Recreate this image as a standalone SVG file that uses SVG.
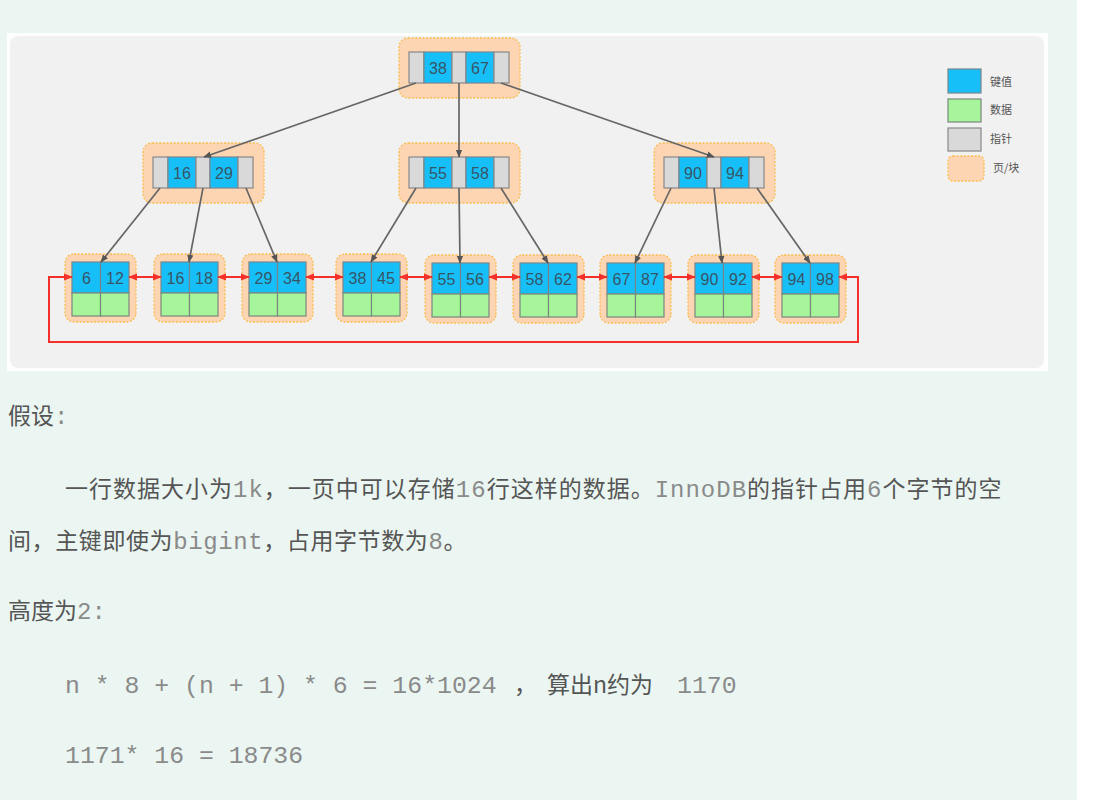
<svg xmlns="http://www.w3.org/2000/svg" width="1117" height="800" viewBox="0 0 1117 800">
<defs>
<style>
.pg{fill:#fdd5b3;stroke:#fbbd4e;stroke-width:1.3;stroke-dasharray:2 1.6}
.ky{fill:#17bff9;stroke:#78868c;stroke-width:1.2}
.pt{fill:#d9d9d9;stroke:#888;stroke-width:1.2}
.dt{fill:#a6f59a;stroke:#7a887c;stroke-width:1.2}
.kt{font-family:"Liberation Sans",Arial,sans-serif;font-size:16px;fill:#385566;text-anchor:middle}
.lg{font-family:"Noto Sans CJK SC",sans-serif;font-size:11px;fill:#555}
.cn{font-family:"Noto Sans CJK SC",sans-serif;font-size:23px;fill:#555}
.mo{font-family:"Liberation Mono","Courier New",monospace;font-size:24px;fill:#8a8a8a}
.mf{font-family:"Liberation Mono","Courier New",monospace;font-size:24.8px;fill:#8a8a8a}
.gl{stroke:#666;stroke-width:1.7;fill:none}
.rl{stroke:#f5302a;stroke-width:2;fill:none}
</style>
<marker id="ga" viewBox="0 0 10 10" refX="9" refY="5" markerWidth="8" markerHeight="8" markerUnits="userSpaceOnUse" orient="auto"><path d="M0,1 L10,5 L0,9 z" fill="#555"/></marker>
<marker id="ra" viewBox="0 0 10 10" refX="9" refY="5" markerWidth="9" markerHeight="9" markerUnits="userSpaceOnUse" orient="auto-start-reverse"><path d="M0,1 L10,5 L0,9 z" fill="#f5302a"/></marker>
<g id="inner">
<rect class="pg" x="-10" y="-14" width="121" height="60" rx="9"/>
<rect class="pt" x="0" y="0" width="15" height="31"/>
<rect class="ky" x="15" y="0" width="28" height="31"/>
<rect class="pt" x="43" y="0" width="14" height="31"/>
<rect class="ky" x="57" y="0" width="28" height="31"/>
<rect class="pt" x="85" y="0" width="15" height="31"/>
</g>
<g id="leaf">
<rect class="pg" x="-7" y="-8" width="71" height="68" rx="9"/>
<rect class="ky" x="0" y="0" width="28.5" height="31"/>
<rect class="ky" x="28.5" y="0" width="28.5" height="31"/>
<rect class="dt" x="0" y="31" width="28.5" height="23"/>
<rect class="dt" x="28.5" y="31" width="28.5" height="23"/>
</g>
</defs>
<rect x="0" y="0" width="1117" height="800" fill="#ffffff"/>
<rect x="0" y="0" width="1077" height="800" fill="#ebf6f2"/>
<rect x="7" y="33" width="1041" height="338" fill="#ffffff"/>
<rect x="10" y="36" width="1034" height="332" rx="8" fill="#f1f1f1"/>

<g id="root" transform="translate(409,52)"><use href="#inner"/><text class="kt" x="29" y="21.5">38</text><text class="kt" x="71" y="21.5">67</text></g>
<g id="n16" transform="translate(153,157)"><use href="#inner"/><text class="kt" x="29" y="21.5">16</text><text class="kt" x="71" y="21.5">29</text></g>
<g id="n55" transform="translate(409,157)"><use href="#inner"/><text class="kt" x="29" y="21.5">55</text><text class="kt" x="71" y="21.5">58</text></g>
<g id="n90" transform="translate(664,157)"><use href="#inner"/><text class="kt" x="29" y="21.5">90</text><text class="kt" x="71" y="21.5">94</text></g>

<g id="l6" transform="translate(72,262)"><use href="#leaf"/><text class="kt" x="14.5" y="21.5">6</text><text class="kt" x="43" y="21.5">12</text></g>
<g id="l16" transform="translate(161,262)"><use href="#leaf"/><text class="kt" x="14.5" y="21.5">16</text><text class="kt" x="43" y="21.5">18</text></g>
<g id="l29" transform="translate(249,262)"><use href="#leaf"/><text class="kt" x="14.5" y="21.5">29</text><text class="kt" x="43" y="21.5">34</text></g>
<g id="l38" transform="translate(343,262)"><use href="#leaf"/><text class="kt" x="14.5" y="21.5">38</text><text class="kt" x="43" y="21.5">45</text></g>
<g id="l55" transform="translate(432,263)"><use href="#leaf"/><text class="kt" x="14.5" y="21.5">55</text><text class="kt" x="43" y="21.5">56</text></g>
<g id="l58" transform="translate(520,263)"><use href="#leaf"/><text class="kt" x="14.5" y="21.5">58</text><text class="kt" x="43" y="21.5">62</text></g>
<g id="l67" transform="translate(607,263)"><use href="#leaf"/><text class="kt" x="14.5" y="21.5">67</text><text class="kt" x="43" y="21.5">87</text></g>
<g id="l90" transform="translate(695,263)"><use href="#leaf"/><text class="kt" x="14.5" y="21.5">90</text><text class="kt" x="43" y="21.5">92</text></g>
<g id="l94" transform="translate(782,263)"><use href="#leaf"/><text class="kt" x="14.5" y="21.5">94</text><text class="kt" x="43" y="21.5">98</text></g>

<g id="connectors">
<line class="gl" x1="416" y1="83" x2="204" y2="157" marker-end="url(#ga)"/>
<line class="gl" x1="459" y1="83" x2="459" y2="157" marker-end="url(#ga)"/>
<line class="gl" x1="501" y1="83" x2="714" y2="157" marker-end="url(#ga)"/>
<line class="gl" x1="160" y1="188" x2="101" y2="262" marker-end="url(#ga)"/>
<line class="gl" x1="203" y1="188" x2="189" y2="262" marker-end="url(#ga)"/>
<line class="gl" x1="246" y1="188" x2="277" y2="262" marker-end="url(#ga)"/>
<line class="gl" x1="416" y1="188" x2="371" y2="262" marker-end="url(#ga)"/>
<line class="gl" x1="459" y1="188" x2="460" y2="263" marker-end="url(#ga)"/>
<line class="gl" x1="501" y1="188" x2="548" y2="263" marker-end="url(#ga)"/>
<line class="gl" x1="671" y1="188" x2="635" y2="263" marker-end="url(#ga)"/>
<line class="gl" x1="714" y1="188" x2="722" y2="263" marker-end="url(#ga)"/>
<line class="gl" x1="757" y1="188" x2="810" y2="263" marker-end="url(#ga)"/>
<line class="rl" x1="129" y1="277" x2="161" y2="277" marker-start="url(#ra)" marker-end="url(#ra)"/>
<line class="rl" x1="218" y1="277" x2="249" y2="277" marker-start="url(#ra)" marker-end="url(#ra)"/>
<line class="rl" x1="306" y1="277" x2="343" y2="277" marker-start="url(#ra)" marker-end="url(#ra)"/>
<line class="rl" x1="400" y1="277" x2="432" y2="277" marker-start="url(#ra)" marker-end="url(#ra)"/>
<line class="rl" x1="489" y1="277" x2="520" y2="277" marker-start="url(#ra)" marker-end="url(#ra)"/>
<line class="rl" x1="577" y1="277" x2="607" y2="277" marker-start="url(#ra)" marker-end="url(#ra)"/>
<line class="rl" x1="664" y1="277" x2="695" y2="277" marker-start="url(#ra)" marker-end="url(#ra)"/>
<line class="rl" x1="752" y1="277" x2="782" y2="277" marker-start="url(#ra)" marker-end="url(#ra)"/>
<path class="rl" d="M839,277 L858,277 L858,342 L49,342 L49,277 L72,277" marker-start="url(#ra)" marker-end="url(#ra)"/>
</g>

<g id="legend">
<rect class="ky" x="948" y="69" width="33" height="24"/>
<rect class="dt" x="948" y="99" width="33" height="23"/>
<rect class="pt" x="948" y="128" width="33" height="23"/>
<rect class="pg" x="948" y="156" width="36" height="25" rx="5"/>
<text class="lg" x="990" y="86">键值</text>
<text class="lg" x="990" y="114">数据</text>
<text class="lg" x="990" y="143">指针</text>
<text class="lg" x="993" y="172">页/块</text>
</g>

<g id="paragraphs">
<text x="8" y="424"><tspan class="cn">假设</tspan><tspan class="mo">:</tspan></text>
<text x="65" y="497" letter-spacing="1.0"><tspan class="cn">一行数据大小为</tspan><tspan class="mo">1k</tspan><tspan class="cn">，一页中可以存储</tspan><tspan class="mo">16</tspan><tspan class="cn">行这样的数据。</tspan><tspan class="mo">InnoDB</tspan><tspan class="cn">的指针占用</tspan><tspan class="mo">6</tspan><tspan class="cn">个字节的空</tspan></text>
<text x="8" y="549" letter-spacing="0.6"><tspan class="cn">间，主键即使为</tspan><tspan class="mo">bigint</tspan><tspan class="cn">，占用字节数为</tspan><tspan class="mo">8</tspan><tspan class="cn">。</tspan></text>
<text x="8" y="619"><tspan class="cn">高度为</tspan><tspan class="mo">2:</tspan></text>
<text y="693"><tspan class="mf" x="65">n * 8 + (n + 1) * 6 = 16*1024</tspan><tspan class="cn" x="514">，</tspan><tspan class="cn" x="547">算出n约为</tspan><tspan class="mf" x="677">1170</tspan></text>
<text y="763"><tspan class="mf" x="65">1171* 16 = 18736</tspan></text>
</g>
</svg>
